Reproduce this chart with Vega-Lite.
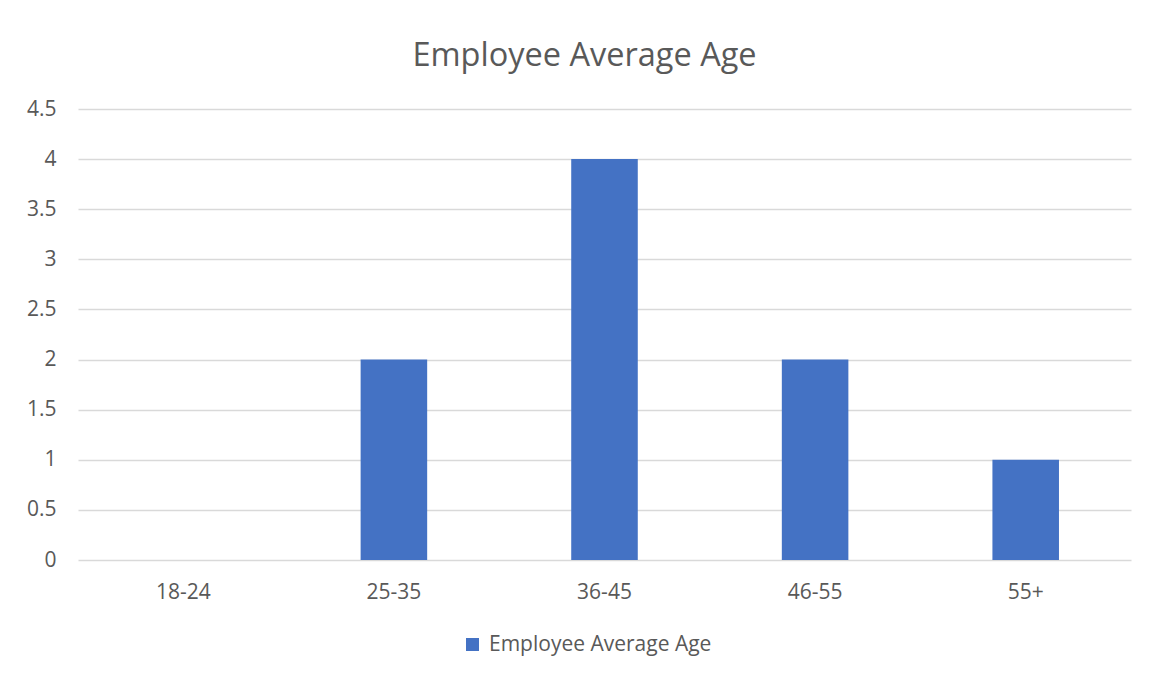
{
  "$schema": "https://vega.github.io/schema/vega-lite/v6.json",
  "autosize": "none",
  "width": 1053,
  "height": 451,
  "padding": {"left": 78, "top": 109, "right": 20, "bottom": 120},
  "background": "white",
  "title": {
    "text": "Employee Average Age",
    "fontSize": 32.5,
    "font": "Open Sans",
    "fontWeight": "normal",
    "color": "#595959",
    "anchor": "middle",
    "frame": "group",
    "dx": -20,
    "offset": 26
  },
  "data": {
    "values": [
      {"age": "18-24", "count": 0, "series": "Employee Average Age"},
      {"age": "25-35", "count": 2, "series": "Employee Average Age"},
      {"age": "36-45", "count": 4, "series": "Employee Average Age"},
      {"age": "46-55", "count": 2, "series": "Employee Average Age"},
      {"age": "55+", "count": 1, "series": "Employee Average Age"}
    ]
  },
  "mark": {"type": "bar"},
  "encoding": {
    "x": {
      "field": "age",
      "type": "nominal",
      "sort": null,
      "scale": {"paddingInner": 0.684, "paddingOuter": 0.342},
      "axis": {
        "title": null,
        "labelAngle": 0,
        "labelFont": "Open Sans",
        "labelFontSize": 21,
        "labelColor": "#595959",
        "labelPadding": 21,
        "domain": false,
        "ticks": false,
        "grid": false
      }
    },
    "y": {
      "field": "count",
      "type": "quantitative",
      "scale": {"domain": [0, 4.5], "nice": false},
      "axis": {
        "title": null,
        "values": [0, 0.5, 1, 1.5, 2, 2.5, 3, 3.5, 4, 4.5],
        "format": "~g",
        "labelFont": "Open Sans",
        "labelFontSize": 21,
        "labelColor": "#595959",
        "labelPadding": 22,
        "domain": false,
        "ticks": false,
        "grid": true,
        "gridColor": "#d9d9d9",
        "gridWidth": 1.5
      }
    },
    "color": {
      "field": "series",
      "type": "nominal",
      "scale": {"range": ["#4472C4"]},
      "legend": {
        "title": null,
        "orient": "none",
        "legendX": 384,
        "legendY": 525,
        "symbolType": "square",
        "symbolSize": 169,
        "symbolStrokeWidth": 0,
        "labelFont": "Open Sans",
        "labelFontSize": 21,
        "labelLimit": 0,
        "labelColor": "#595959",
        "labelOffset": 6
      }
    }
  },
  "config": {"view": {"stroke": null}}
}
